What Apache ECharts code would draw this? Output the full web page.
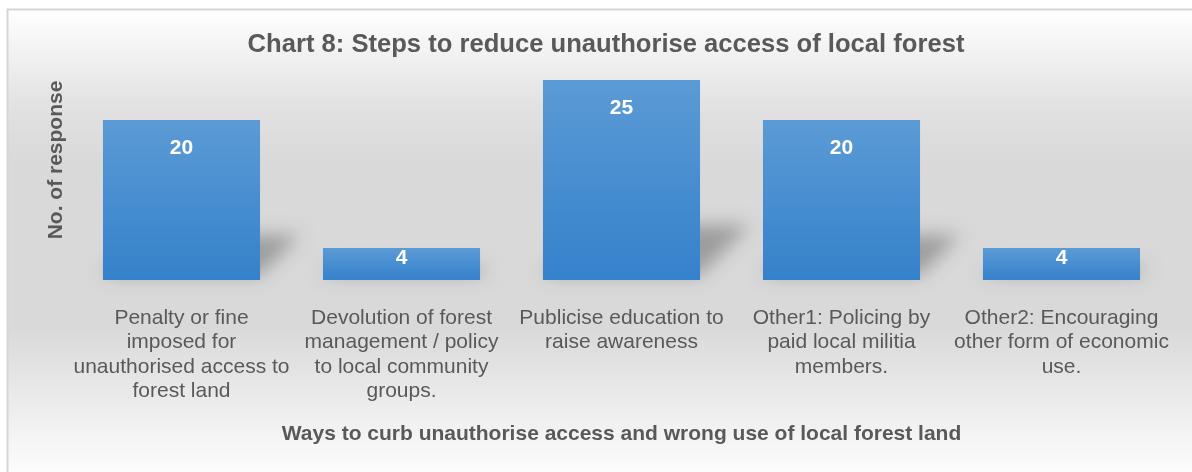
<!DOCTYPE html>
<html>
<head>
<meta charset="utf-8">
<script src="https://cdn.jsdelivr.net/npm/echarts@6/dist/echarts.min.js"></script>
<style>
  html, body { margin: 0; padding: 0; background: #ffffff; }
  #chart { width: 1192px; height: 472px; }
</style>
</head>
<body>
<div id="chart"></div>
<script>
// Survey answers: ways to curb unauthorised use of local forest land
const categories = [
  'Penalty or fine\nimposed for\nunauthorised access to\nforest land',
  'Devolution of forest\nmanagement / policy\nto local community\ngroups.',
  'Publicise education to\nraise awareness',
  'Other1: Policing by\npaid local militia\nmembers.',
  'Other2: Encouraging\nother form of economic\nuse.'
];
const responses = [20, 4, 25, 20, 4];

const chartTitle = 'Chart 8: Steps to reduce unauthorise access of local forest';
const xAxisTitle = 'Ways to curb unauthorise access and wrong use of local forest land';
const yAxisTitle = 'No. of response';

const FONT = "'Liberation Sans', Arial, sans-serif";
const TEXT_GREY = '#595959';
const BAR_RATIO = 0.714;

const chart = echarts.init(document.getElementById('chart'), null, { renderer: 'canvas' });

// Soft perspective shadow cast behind each column, drawn only as a blurred shadow
function renderShadow(params, api) {
  const idx = api.value(0);
  const val = api.value(1);
  const base = api.coord([idx, 0]);
  const top = api.coord([idx, val]);
  const w = api.size([1, 0])[0] * BAR_RATIO;
  const x0 = base[0] - w / 2;
  const x1 = base[0] + w / 2;
  const B = base[1] - 5;
  const d = (base[1] - top[1]) * 0.25;
  const off = 3000;
  return {
    type: 'polygon',
    silent: true,
    shape: {
      points: [
        [x0 - off, B],
        [x1 - off, B],
        [x1 + d - off, B - d],
        [x0 + d - off, B - d]
      ]
    },
    style: {
      fill: '#000',
      shadowBlur: 18,
      shadowColor: 'rgba(0,0,0,0.28)',
      shadowOffsetX: off,
      shadowOffsetY: 0
    }
  };
}

const option = {
  animation: false,
  textStyle: { fontFamily: FONT },
  graphic: [
    {
      type: 'rect',
      z: -10,
      silent: true,
      shape: { x: 7.5, y: 9.5, width: 1200, height: 480 },
      style: {
        fill: new echarts.graphic.LinearGradient(0, 0, 0, 1, [
          { offset: 0, color: '#ffffff' },
          { offset: 0.2, color: '#e2e2e2' },
          { offset: 0.32, color: '#d9d9d9' },
          { offset: 0.66, color: '#d9d9d9' },
          { offset: 0.95, color: '#fbfbfb' },
          { offset: 1, color: '#ffffff' }
        ]),
        stroke: '#d6d6d6',
        lineWidth: 2
      }
    }
  ],
  title: {
    text: chartTitle,
    left: 606,
    top: 32,
    padding: 0,
    textAlign: 'center',
    textStyle: {
      fontFamily: FONT,
      fontSize: 25.6,
      fontWeight: 'bold',
      color: TEXT_GREY
    }
  },
  grid: {
    left: 71.5,
    right: 20.5,
    top: 40,
    bottom: 192,
    containLabel: false
  },
  xAxis: {
    type: 'category',
    data: categories,
    axisLine: { show: false },
    axisTick: { show: false },
    splitLine: { show: false },
    axisLabel: {
      interval: 0,
      margin: 26,
      fontFamily: FONT,
      fontSize: 21,
      lineHeight: 24.4,
      color: TEXT_GREY,
      align: 'center'
    },
    name: xAxisTitle,
    nameLocation: 'middle',
    nameGap: 144,
    nameTextStyle: {
      fontFamily: FONT,
      fontSize: 21,
      fontWeight: 'bold',
      color: TEXT_GREY
    }
  },
  yAxis: {
    type: 'value',
    min: 0,
    max: 30,
    interval: 5,
    axisLine: { show: false },
    axisTick: { show: false },
    axisLabel: { show: false },
    splitLine: { show: false },
    name: yAxisTitle,
    nameLocation: 'middle',
    nameGap: 5,
    nameTextStyle: {
      fontFamily: FONT,
      fontSize: 21,
      fontWeight: 'bold',
      color: TEXT_GREY
    }
  },
  series: [
    {
      type: 'custom',
      z: 1,
      clip: false,
      silent: true,
      renderItem: renderShadow,
      encode: { x: 0, y: 1 },
      data: responses.map((v, i) => [i, v])
    },
    {
      type: 'bar',
      z: 3,
      barWidth: (BAR_RATIO * 100) + '%',
      itemStyle: {
        color: new echarts.graphic.LinearGradient(0, 0, 0, 1, [
          { offset: 0, color: '#5b9bd5' },
          { offset: 1, color: '#3581cb' }
        ])
      },
      label: {
        show: true,
        position: 'insideTop',
        fontFamily: FONT,
        fontSize: 21,
        fontWeight: 'bold',
        color: '#ffffff'
      },
      data: responses.map(v => ({
        value: v,
        label: { distance: v > 10 ? 18 : 0 }
      }))
    }
  ]
};

chart.setOption(option);
</script>
</body>
</html>
